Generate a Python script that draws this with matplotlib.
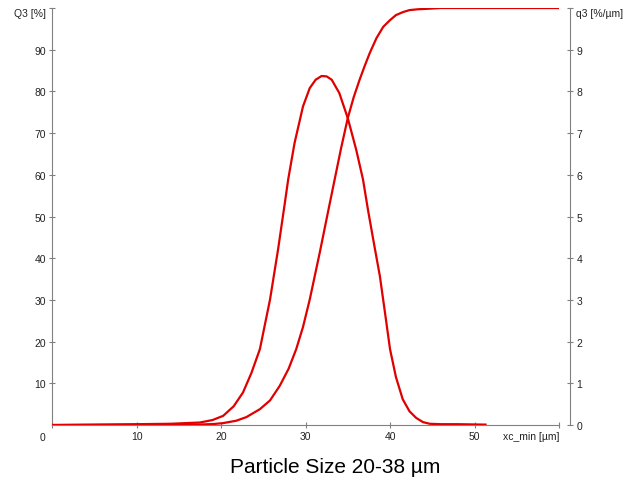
import matplotlib.pyplot as plt

plt.rcParams['font.family'] = ['Liberation Sans', 'DejaVu Sans']

# cumulative distribution Q3 [%]
q3_cum_x = [0, 5, 10, 15, 17.5, 19.1, 20.2, 21.8, 23.0, 24.6, 25.8, 26.95, 28.0,
            28.9, 29.7, 30.5, 31.7, 32.5, 33.45, 34.2, 35.0, 35.7, 36.4, 37.0,
            37.6, 38.4, 39.2, 40.0, 40.7, 41.5, 42.3, 43.3, 44.3, 46, 50, 55, 60]
q3_cum = [0, 0.02, 0.05, 0.08, 0.12, 0.24, 0.44, 1.03, 1.9, 3.8, 5.9, 9.4, 13.5,
          18.2, 23.5, 30.1, 41.5, 49.5, 58.9, 66.3, 73.6, 78.6, 82.8, 86.1,
          89.2, 92.8, 95.5, 97.1, 98.3, 99.0, 99.5, 99.7, 99.8, 100, 100, 100, 100]

# density distribution q3 [%/um]
q3_dens_x = [0, 5, 10, 14, 17.5, 19.0, 20.25, 21.5, 22.6, 23.6, 24.6, 25.8, 26.75,
             27.5, 27.95, 28.7, 29.7, 30.5, 31.2, 31.9, 32.5, 33.1, 34.0, 35.0,
             36.0, 36.8, 37.4, 38.1, 38.8, 39.4, 40.0, 40.7, 41.5, 42.3, 43.1,
             43.9, 44.7, 46, 48, 51.3]
q3_dens = [0, 0.01, 0.02, 0.03, 0.06, 0.12, 0.22, 0.45, 0.78, 1.25, 1.82, 3.01, 4.21,
           5.25, 5.89, 6.76, 7.64, 8.08, 8.28, 8.37, 8.36, 8.28, 7.96, 7.36,
           6.60, 5.89, 5.15, 4.35, 3.57, 2.7, 1.82, 1.15, 0.62, 0.33, 0.17,
           0.07, 0.03, 0.02, 0.02, 0.01]

x_ticks = [10, 20, 30, 40, 50, 60]
x_labels = ['10', '20', '30', '40', '50', 'xc_min [µm]']
left_ticks = [10, 20, 30, 40, 50, 60, 70, 80, 90, 100]
left_labels = ['10', '20', '30', '40', '50', '60', '70', '80', '90', 'Q3 [%]']
right_ticks = [0, 1, 2, 3, 4, 5, 6, 7, 8, 9, 10]
right_labels = ['0', '1', '2', '3', '4', '5', '6', '7', '8', '9', 'q3 [%/µm]']

grey = '#808080'
red = '#e00000'

fig = plt.figure(figsize=(6.43, 4.85), dpi=100)
ax = fig.add_axes([0.0809, 0.1216, 0.7885, 0.8598])
ax2 = ax.twinx()

ax.plot(q3_cum_x, q3_cum, color=red, lw=1.6, zorder=3)
ax2.plot(q3_dens_x, q3_dens, color=red, lw=1.6, zorder=3)

ax.set_xlim(0, 60)
ax.set_ylim(0, 100)
ax2.set_ylim(0, 10)

for s in ['top', 'right']:
    ax.spines[s].set_visible(False)
for s in ['top', 'left', 'bottom']:
    ax2.spines[s].set_visible(False)
ax.spines['left'].set_color(grey)
ax.spines['bottom'].set_color(grey)
ax2.spines['right'].set_color(grey)
ax2.spines['right'].set_position(('axes', 518 / 507))

ax.set_xticks([0] + x_ticks)
ax.set_xticklabels([''] + x_labels)
ax.set_yticks(left_ticks)
ax.set_yticklabels(left_labels)
ax2.set_yticks(right_ticks)
ax2.set_yticklabels(right_labels)

ax.tick_params(axis='both', direction='inout', length=5, width=0.8, color=grey,
               labelsize=7.5, labelcolor='#222222', pad=2)
ax2.tick_params(axis='y', direction='inout', length=5, width=0.8, color=grey,
                labelsize=7.5, labelcolor='#222222', pad=2)

ax.get_xticklabels()[-1].set_ha('right')
ax.get_yticklabels()[-1].set_va('top')
ax2.get_yticklabels()[-1].set_va('top')

# shared origin label
ax.annotate('0', xy=(0, 0), xycoords='data', xytext=(-7, -5), textcoords='offset points',
            ha='center', va='top', fontsize=7.5, color='#222222')

fig.text(0.521, 0.037, 'Particle Size 20-38 µm', ha='center', va='center', fontsize=15)

fig.savefig('out.png', dpi=100)
